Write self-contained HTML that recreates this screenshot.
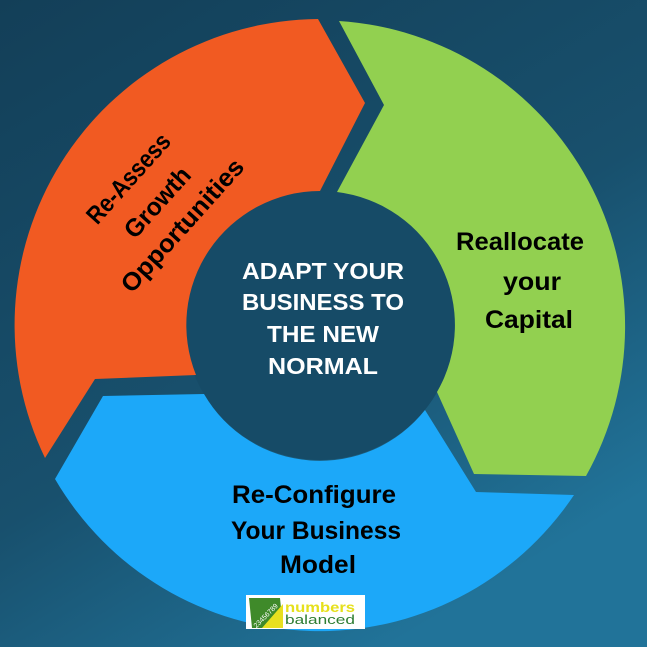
<!DOCTYPE html>
<html><head><meta charset="utf-8"><style>
html,body{margin:0;padding:0;width:647px;height:647px;overflow:hidden}
</style></head><body>
<svg width="647" height="647" viewBox="0 0 647 647" xmlns="http://www.w3.org/2000/svg">
<defs>
<linearGradient id="bg" x1="0" y1="0" x2="0.6" y2="1">
<stop offset="0" stop-color="#133f58"/>
<stop offset="0.6" stop-color="#18506d"/>
<stop offset="1" stop-color="#217399"/>
</linearGradient>
</defs>
<rect width="647" height="647" fill="url(#bg)"/>
<circle cx="320" cy="325" r="135" fill="#164b67"/>
<path d="M45,458 A306,306 0 0 1 318,19 L365,103 L320,191 A134,134 0 0 0 196,375 L95,379 Z" fill="#f15a22"/>
<path d="M339,21 A306,306 0 0 1 586,476 L474,474 L437,392 A134,134 0 0 0 337,192 L384,105 Z" fill="#92d050"/>
<path d="M55,479 A306,306 0 0 0 574,495 L476,492 L425,410 A134,134 0 0 1 204,394 L103,396 Z" fill="#1ca8f9"/>
<g font-family="Liberation Sans, sans-serif" font-weight="bold" text-anchor="middle">
<g fill="#fff" font-size="23">
<text x="323" y="279" textLength="162" lengthAdjust="spacingAndGlyphs">ADAPT YOUR</text>
<text x="323" y="310" textLength="162" lengthAdjust="spacingAndGlyphs">BUSINESS TO</text>
<text x="323" y="342" textLength="112" lengthAdjust="spacingAndGlyphs">THE NEW</text>
<text x="323" y="374" textLength="110" lengthAdjust="spacingAndGlyphs">NORMAL</text>
</g>
<g fill="#000" font-size="25">
<text x="520" y="250" textLength="128" lengthAdjust="spacingAndGlyphs">Reallocate</text>
<text x="532" y="290" textLength="58" lengthAdjust="spacingAndGlyphs">your</text>
<text x="529" y="328" textLength="88" lengthAdjust="spacingAndGlyphs">Capital</text>
<text x="314" y="503" textLength="164" lengthAdjust="spacingAndGlyphs">Re-Configure</text>
<text x="316" y="539" textLength="170" lengthAdjust="spacingAndGlyphs">Your Business</text>
<text x="318" y="573" textLength="76" lengthAdjust="spacingAndGlyphs">Model</text>
<text x="128" y="187" transform="rotate(-48 128 178)" textLength="112" lengthAdjust="spacingAndGlyphs">Re-Assess</text>
<text x="157" y="211" transform="rotate(-48 157 202)" textLength="86" lengthAdjust="spacingAndGlyphs">Growth</text>
<text x="182" y="234" transform="rotate(-48 182 225)" textLength="170" lengthAdjust="spacingAndGlyphs">Opportunities</text>
</g>
</g>
<rect x="246" y="595" width="119" height="34" fill="#fff"/>
<polygon points="249,598 280,598 283,628 252,628" fill="#3f8a2a"/>
<polygon points="262,628 283,604 283,628" fill="#e8e020"/>
<text x="266" y="618" font-family="Liberation Sans, sans-serif" font-size="7" fill="#fff" transform="rotate(-45 266 616)" text-anchor="middle">23456789</text>
<text x="285" y="612" font-family="Liberation Sans, sans-serif" font-weight="bold" font-size="14" fill="#e6e01c" textLength="70" lengthAdjust="spacingAndGlyphs">numbers</text>
<text x="285" y="624" font-family="Liberation Sans, sans-serif" font-size="13" fill="#2e7d32" textLength="70" lengthAdjust="spacingAndGlyphs">balanced</text>
</svg>
</body></html>
